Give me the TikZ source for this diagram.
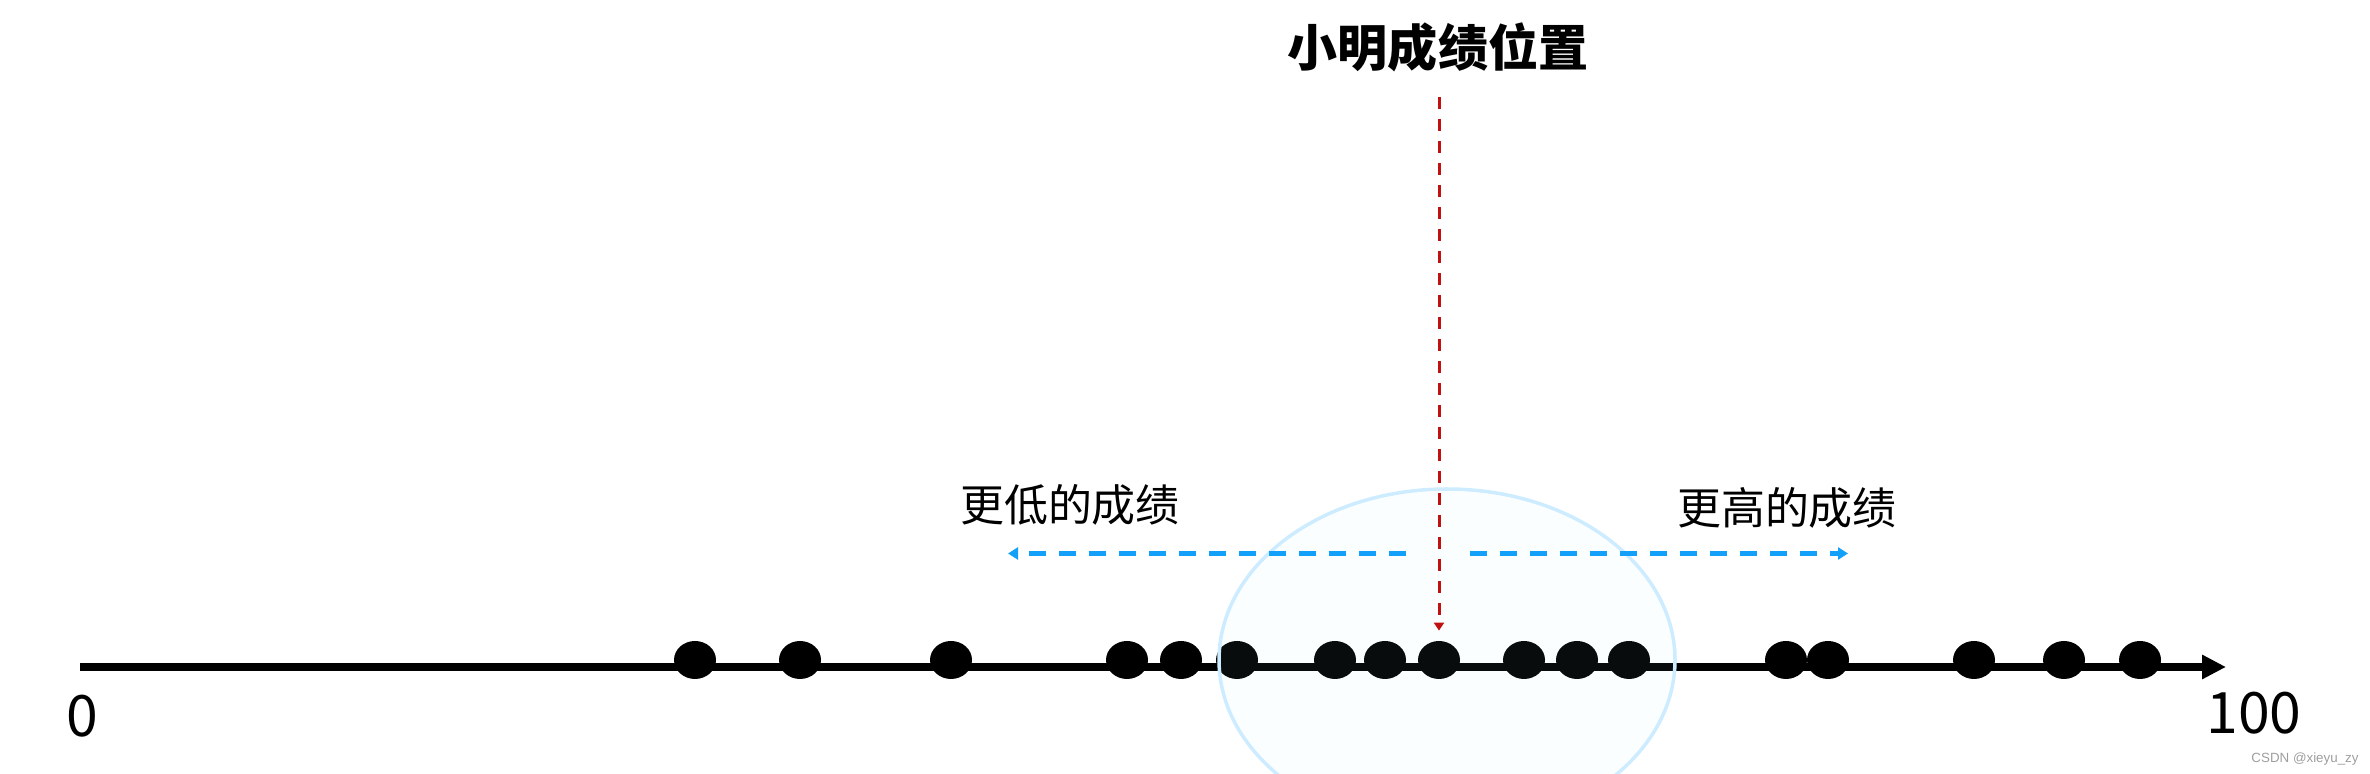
\documentclass[tikz,border=0pt]{standalone}
\usepackage{fontspec}
\setmainfont{Noto Sans CJK SC}
\newfontfamily\heavyfont{Noto Sans CJK SC Black}
\newfontfamily\marksans{Liberation Sans}
\usetikzlibrary{arrows.meta,shapes.geometric}

\definecolor{markred}{RGB}{192,16,16}
\definecolor{rangeblue}{RGB}{18,160,250}
\definecolor{zoneedge}{RGB}{206,236,255}
\definecolor{zonefill}{RGB}{184,241,255}

\begin{document}
\begin{tikzpicture}[
	score/.style={ellipse, fill=black, minimum width=8.4mm, minimum height=7.6mm, inner sep=0pt},
	axisline/.style={line width=4pt, -{Triangle[length=4.8mm, width=4.6mm]}},
	markline/.style={draw=markred, line width=1.7pt, dash pattern=on 2.4mm off 2mm, -{Triangle[length=1.6mm, width=2mm]}},
	rangeline/.style={draw=rangeblue, line width=2.3pt, dash pattern=on 3.4mm off 2.6mm, -{Triangle[length=2mm, width=2.4mm]}},
	zone/.style={draw=zoneedge, line width=2pt, fill=zonefill, fill opacity=0.05},
	headline/.style={font=\heavyfont\fontsize{28.5}{34}\selectfont, inner sep=0pt},
	note/.style={font=\fontsize{25}{30}\selectfont, inner sep=0pt},
	tick/.style={font=\fontsize{32.5}{38}\selectfont, inner sep=0pt}
]
\useasboundingbox (0,0) rectangle (47.4,15.48);

% Score axis with the class results on it.
\coordinate (axisstart) at (1.6,2.14);
\coordinate (axisend) at (44.52,2.14);
\draw[axisline] (axisstart) -- (axisend);

\foreach \x [count=\i] in {13.9,16.0,19.02,22.54,23.62,24.74,26.7,27.7,28.78,30.48,31.54,32.58,35.72,36.56,39.48,41.28,42.8} {
	\node[score] (d\i) at (\x,2.28) {};
}

\draw[zone] (28.94,2.28) ellipse [x radius=4.56, y radius=3.42];

\node[tick] (zero) at (1.64,1.16) {0};
\node[tick] (hundred) at (45.08,1.22) {100};

% Marker for the position and the two directions.
\node[headline] (title) at (28.76,14.54) {小明成绩位置};
\draw[markline, shorten <=0.5cm, shorten >=0.2cm] (title.south -| d9) -- (d9.north);

\coordinate (lowstart) at (28.12,4.41);
\coordinate (lowend) at (20.16,4.41);
\coordinate (highstart) at (29.4,4.41);
\coordinate (highend) at (36.96,4.41);
\draw[rangeline] (lowstart) -- (lowend);
\draw[rangeline] (highstart) -- (highend);

\node[note] (lower) at (21.4,5.38) {更低的成绩};
\node[note] (higher) at (35.74,5.32) {更高的成绩};

\node[font=\marksans\fontsize{7.6}{9}\selectfont, text=black!38, inner sep=0pt] (credit) at (46.1,0.3) {CSDN @xieyu\_zy};

\end{tikzpicture}
\end{document}
